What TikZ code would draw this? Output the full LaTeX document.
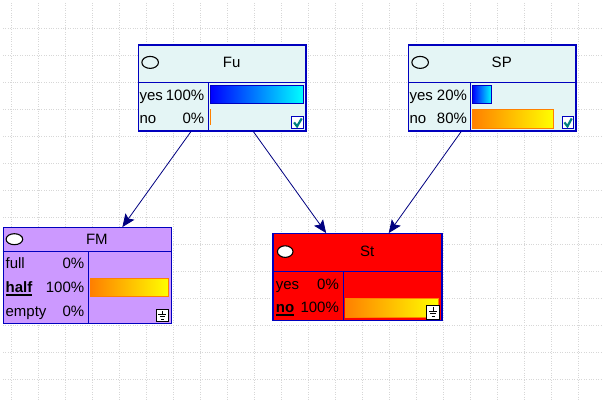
\documentclass[tikz,border=0pt]{standalone}
\usepackage{fontspec}
\setmainfont{Liberation Sans}
\usetikzlibrary{arrows.meta,positioning}
\definecolor{netblue}{RGB}{0,0,190}
\definecolor{arrownavy}{RGB}{0,0,128}
\definecolor{paleteal}{RGB}{228,245,245}
\definecolor{lilac}{RGB}{204,153,255}
\definecolor{gridgray}{RGB}{215,215,215}
\definecolor{checkteal}{RGB}{0,128,128}
\definecolor{barorange}{RGB}{255,128,0}
% Bold, underlined state name
\newcommand{\chosenstate}[1]{\setbox0\hbox{\bfseries #1}\rlap{\rule[-3.6pt]{\wd0}{1.8pt}}\box0}
\tikzset{
    % Network node box
    netnode/.style={rectangle,draw=netblue,line width=1.2pt,inner sep=0pt},
    % Background grid
    gridline/.style={gridgray,line width=0.8pt,dash pattern=on 1pt off 1.4pt},
    % Separators inside a box
    sepline/.style={netblue,line width=1.2pt},
    % Texts
    txt/.style={inner sep=0pt,font=\fontsize{15}{18}\selectfont},
    % State marker
    marker/.style={draw=black,line width=1.1pt},
    % Probability bars
    bluebar/.style={draw=netblue,line width=0.6pt,left color=blue,right color=cyan},
    orangebar/.style={draw=barorange,line width=0.8pt,left color=barorange,right color=yellow},
    % Small icons
    checkicon/.style={fill=white,draw=netblue,line width=1pt},
    groundicon/.style={fill=white,draw=black,line width=1pt},
    % Link arrow
    edge/.style={-{Stealth[length=13pt,width=11pt,inset=2.5pt]},arrownavy,line width=0.8pt}
}

\begin{document}
\begin{tikzpicture}[x=1pt,y=-1pt]
    \useasboundingbox (0,0) rectangle (603,401);

    % Dotted grid
    \foreach \gx in {0,...,21}
        \draw[gridline] ({11+27*\gx},3) -- ({11+27*\gx},401);
    \foreach \gy in {0,...,13}
        \draw[gridline] (3,{28+27*\gy}) -- (603,{28+27*\gy});

    % Boxes
    \node[netnode,fill=paleteal,minimum width=167.7pt,minimum height=86pt] (fu) at (222.2,88) {};
    \node[netnode,fill=paleteal,minimum width=167.7pt,minimum height=86pt] (sp) at (492.2,88) {};
    \node[netnode,fill=lilac,minimum width=168.4pt,minimum height=96pt] (fm) at (87.5,275.7) {};
    \node[netnode,fill=red,minimum width=169pt,minimum height=86.6pt] (st) at (357.5,277) {};

    % Fu
    \begin{scope}[shift={(fu.north west)}]
        \draw[sepline] (0,38.3) -- (167.7,38.3);
        \draw[sepline] (70.4,38.3) -- (70.4,86);
        \draw[marker,fill=paleteal] (12.4,18) ellipse (8.3 and 6);
        \node[txt,anchor=base] (futitle) at (94,23.3) {Fu};
        \node[txt,anchor=base west] (fuyes) at (1.7,56) {yes};
        \node[txt,anchor=base east] (fuyesp) at (66.7,56) {100\%};
        \node[txt,anchor=base west] (funo) at (1.7,79) {no};
        \node[txt,anchor=base east] (funop) at (66.7,79) {0\%};
        \shade[bluebar] (72.7,41) rectangle (165.4,59.3);
        \draw[barorange,line width=1pt] (72.9,65) -- (72.9,81);
        \draw[checkicon] (154,72) rectangle (165.7,84.3);
        \draw[checkteal,line width=2.2pt] (156.3,78) -- (159.3,82) -- (164,74);
    \end{scope}

    % SP
    \begin{scope}[shift={(sp.north west)}]
        \draw[sepline] (0,38.3) -- (167.7,38.3);
        \draw[sepline] (62.4,38.3) -- (62.4,86);
        \draw[marker,fill=paleteal] (12.4,18) ellipse (8.3 and 6);
        \node[txt,anchor=base] (sptitle) at (94,23.3) {SP};
        \node[txt,anchor=base west] (spyes) at (1.7,56) {yes};
        \node[txt,anchor=base east] (spyesp) at (59.4,56) {20\%};
        \node[txt,anchor=base west] (spno) at (1.7,79) {no};
        \node[txt,anchor=base east] (spnop) at (59.4,79) {80\%};
        \shade[bluebar] (64.7,41) rectangle (84,59.3);
        \shade[orangebar] (64.7,65) rectangle (145.4,83.7);
        \draw[checkicon] (154.4,72) rectangle (165.7,84.3);
        \draw[checkteal,line width=2.2pt] (156.7,78) -- (159.7,82) -- (164,74);
    \end{scope}

    % FM
    \begin{scope}[shift={(fm.north west)}]
        \draw[sepline] (0,24.3) -- (168.4,24.3);
        \draw[sepline] (85.4,24.3) -- (85.4,96);
        \draw[marker,fill=white] (11.7,12.1) ellipse (8.3 and 5.5);
        \node[txt,anchor=base] (fmtitle) at (94.2,17) {FM};
        \node[txt,anchor=base west] (fmfull) at (2.7,41) {full};
        \node[txt,anchor=base east] (fmfullp) at (81.7,41) {0\%};
        \node[txt,anchor=base west] (fmhalf) at (2.7,65.3) {\chosenstate{half}};
        \node[txt,anchor=base east] (fmhalfp) at (81.7,65.3) {100\%};
        \node[txt,anchor=base west] (fmempty) at (2.7,89.3) {empty};
        \node[txt,anchor=base east] (fmemptyp) at (81.7,89.3) {0\%};
        \shade[orangebar] (88,51.3) rectangle (165.7,69.6);
        \draw[groundicon] (153.7,82) rectangle (165.7,94.3);
        \draw[line width=1pt] (159.7,84) -- (159.7,87.5)
            (155.7,87.5) -- (163.7,87.5) (156.9,89.8) -- (162.5,89.8) (158.2,92) -- (161.2,92);
    \end{scope}

    % St
    \begin{scope}[shift={(st.north west)}]
        \draw[sepline] (0,38.3) -- (169,38.3);
        \draw[sepline] (70.7,38.3) -- (70.7,86.6);
        \draw[marker,fill=white] (12.8,18.5) ellipse (7.8 and 5.8);
        \node[txt,anchor=base] (sttitle) at (94.8,23.6) {St};
        \node[txt,anchor=base west] (styes) at (3.3,56) {yes};
        \node[txt,anchor=base east] (styesp) at (66.7,56) {0\%};
        \node[txt,anchor=base west] (stno) at (3.3,79.3) {\chosenstate{no}};
        \node[txt,anchor=base east] (stnop) at (66.7,79.3) {100\%};
        \shade[orangebar] (72.7,65) rectangle (166,84.3);
        \draw[groundicon] (154.3,72.3) rectangle (167,86.3);
        \draw[line width=1pt] (160.6,74.3) -- (160.6,78.5)
            (156.6,78.5) -- (164.6,78.5) (157.8,80.8) -- (163.4,80.8) (159.1,83) -- (162.1,83);
    \end{scope}

    % Links
    \draw[edge] (fu) -- (fm);
    \draw[edge] (fu) -- (st);
    \draw[edge] (sp) -- (st);
\end{tikzpicture}
\end{document}
